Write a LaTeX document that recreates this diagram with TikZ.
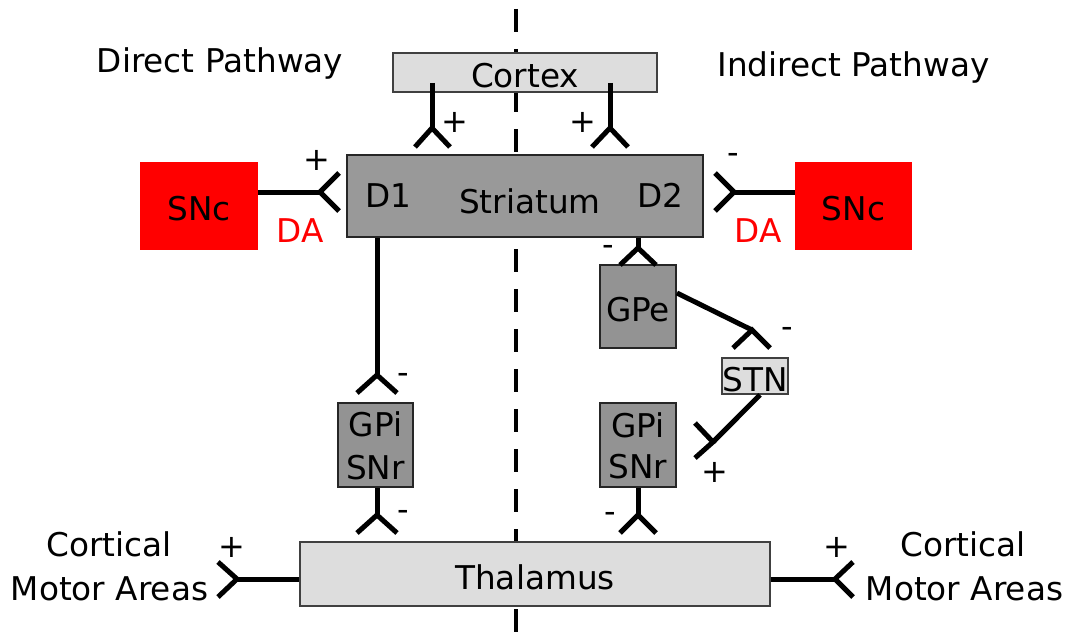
\documentclass[tikz,border=0pt]{standalone}
\usepackage{fontspec}
\setmainfont{DejaVu Sans}
\definecolor{midgray}{HTML}{999999}
\definecolor{darkfill}{HTML}{939393}
\definecolor{lightfill}{HTML}{DDDDDD}
\definecolor{snred}{HTML}{FF0000}
\newcommand\synapse[4]{\draw[syn] #1 -- #2; \draw[syn] #3 -- #2 -- #4;}
\begin{document}
\begin{tikzpicture}[x=1pt,y=-1pt,
  every node/.style={font=\fontsize{32.7}{38}\selectfont, inner sep=0pt},
  txt/.style={anchor=base},
  box/.style={draw=black!85, line width=1.8pt, rectangle},
  lbox/.style={box, fill=lightfill, draw=black!75},
  gbox/.style={box, fill=midgray},
  dbox/.style={box, fill=darkfill},
  rbox/.style={rectangle, fill=snred},
  syn/.style={line width=5pt, black},
  sign/.style={font=\fontsize{32}{36}\selectfont},
  datext/.style={txt, text=snred}]
\useasboundingbox (0,0) rectangle (1070,634);
\fill[white] (0,0) rectangle (1070,634);
% dashed midline
\coordinate (midtop) at (516,9);
\coordinate (midbot) at (516,634);
\draw[line width=4.5pt, dash pattern=on 23pt off 17pt] (midtop) -- (midbot);
% titles
\node[txt] (direct) at (220,72) {Direct Pathway};
\node[txt] (indirect) at (853.5,77) {Indirect Pathway};
% boxes
\node[lbox, minimum width=264pt, minimum height=39pt] (cortex) at (525,72.5) {};
\node[txt] (cortext) at (525,87) {Cortex};
\node[gbox, minimum width=356pt, minimum height=82pt] (striatum) at (525,196) {};
\node[txt] (d1) at (388,207) {D1};
\node[txt] (str) at (530,213) {Striatum};
\node[txt] (d2) at (660,207) {D2};
\node[rbox, minimum width=118pt, minimum height=88pt] (snc1) at (199,206) {};
\node[txt] (snc1t) at (199,220) {SNc};
\node[rbox, minimum width=117pt, minimum height=88pt] (snc2) at (853.5,206) {};
\node[txt] (snc2t) at (853.5,220) {SNc};
\node[datext] (da1) at (300,242) {DA};
\node[datext] (da2) at (758,242) {DA};
\node[dbox, minimum width=76pt, minimum height=83pt] (gpe) at (638,306.5) {};
\node[txt] (gpetext) at (638,321) {GPe};
\node[lbox, minimum width=66pt, minimum height=36pt] (stn) at (755,376) {};
\node[txt] (stntext) at (755,391) {STN};
\node[dbox, minimum width=75pt, minimum height=84pt] (gpi1) at (375.5,445) {};
\node[txt] (gpi1a) at (375.5,436) {GPi};
\node[txt] (gpi1b) at (375.5,479) {SNr};
\node[dbox, minimum width=76pt, minimum height=84pt] (gpi2) at (638,445) {};
\node[txt] (gpi2a) at (638,437) {GPi};
\node[txt] (gpi2b) at (638,478) {SNr};
\node[lbox, minimum width=470pt, minimum height=64pt] (thal) at (535,574) {};
\node[txt] (thaltext) at (535,589) {Thalamus};
\node[txt] (cma1a) at (109,556) {Cortical};
\node[txt] (cma1b) at (109.5,600) {Motor Areas};
\node[txt] (cma2a) at (963,556) {Cortical};
\node[txt] (cma2b) at (964.5,600) {Motor Areas};
% fork points
\coordinate (f1) at (432,128);
\coordinate (f2) at (610,128);
\coordinate (f3) at (320,192);
\coordinate (f4) at (734,192);
\coordinate (f5) at (377,375);
\coordinate (f6) at (377,515);
\coordinate (f7) at (638,248);
\coordinate (f8) at (752,330);
\coordinate (f9) at (713,442);
\coordinate (f10) at (638,515);
\coordinate (f11) at (237,579);
\coordinate (f12) at (835,579);
% synapses
\synapse{(cortex.south -| 432,0) ++(0,-10)}{(f1)}{(415,147)}{(450,147)}
\synapse{(cortex.south -| 610,0) ++(0,-10)}{(f2)}{(592,147)}{(628,147)}
\synapse{(snc1.east |- 0,192)}{(f3)}{(339,173)}{(339,211)}
\synapse{(snc2.west |- 0,192)}{(f4)}{(715,173)}{(715,211)}
\synapse{(striatum.south -| 377,0)}{(f5)}{(357,393)}{(397,393)}
\synapse{(gpi1.south -| 377,0)}{(f6)}{(357,533)}{(397,533)}
\synapse{(striatum.south -| 638,0)}{(f7)}{(620,265)}{(656,265)}
\synapse{(gpe.east |- 0,293)}{(f8)}{(733,348)}{(770,348)}
\synapse{(stn.south -| 760,0)}{(f9)}{(695,423)}{(695,458)}
\synapse{(gpi2.south)}{(f10)}{(620,533)}{(656,533)}
\synapse{(thal.west |- 0,579)}{(f11)}{(218,562)}{(218,597)}
\synapse{(thal.east |- 0,579)}{(f12)}{(853,562)}{(853,597)}
% signs
\node[sign] (s1) at (455,122) {+};
\node[sign] (s2) at (583,122) {+};
\node[sign] (s3) at (317,160) {+};
\node[sign] (s4) at (733,158) {-};
\node[sign] (s5) at (403,378) {-};
\node[sign] (s6) at (403,515) {-};
\node[sign] (s7) at (608,250) {-};
\node[sign] (s8) at (787,332) {-};
\node[sign] (s9) at (715,472) {+};
\node[sign] (s10) at (610,517) {-};
\node[sign] (s11) at (232,547) {+};
\node[sign] (s12) at (837,547) {+};
\end{tikzpicture}
\end{document}
